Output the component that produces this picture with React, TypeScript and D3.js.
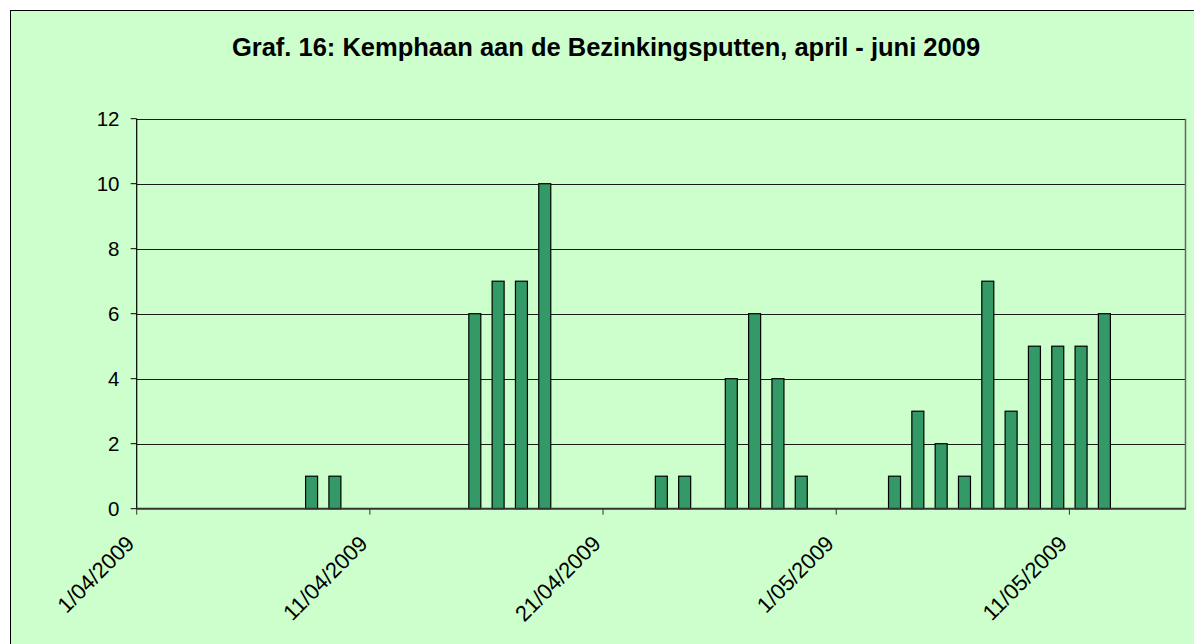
import React from "react";
import * as d3 from "d3";

const TITLE = "Graf. 16: Kemphaan aan de Bezinkingsputten, april - juni 2009";
const obsDates = [
  "2009-04-08", "2009-04-09", "2009-04-15", "2009-04-16", "2009-04-17", "2009-04-18",
  "2009-04-23", "2009-04-24", "2009-04-26", "2009-04-27", "2009-04-28", "2009-04-29",
  "2009-05-03", "2009-05-04", "2009-05-05", "2009-05-06", "2009-05-07", "2009-05-08",
  "2009-05-09", "2009-05-10", "2009-05-11", "2009-05-12",
];
const counts = [1, 1, 6, 7, 7, 10, 1, 1, 4, 6, 4, 1, 1, 3, 2, 1, 7, 3, 5, 5, 5, 6];
const yTicks = [0, 2, 4, 6, 8, 10, 12];
const xTickDates = ["2009-04-01", "2009-04-11", "2009-04-21", "2009-05-01", "2009-05-11"];
const domainStart = "2009-04-01";
const domainEnd = "2009-05-16";

const parse = (s: string) => {
  const [y, m, d] = s.split("-").map(Number);
  return new Date(y, m - 1, d);
};
const fmt = d3.timeFormat("%-d/%m/%Y");

export default function App() {
  const W = 1194, H = 644;
  const left = 136.7, right = 1186, top = 118.7, bottom = 508.7;
  const x = d3.scaleTime().domain([parse(domainStart), parse(domainEnd)]).range([left, right]);
  const y = d3.scaleLinear().domain([0, 12]).range([bottom, top]);
  const dayW = x(parse("2009-04-02")) - x(parse("2009-04-01"));
  const barW = 12;
  const font = "Arial, 'Liberation Sans', sans-serif";

  return (
    <svg width={W} height={H} style={{ position: "absolute", left: 0, top: 0 }} fontFamily={font}>
      <rect x={0} y={0} width={W} height={H} fill="#ffffff" />
      <rect x={10.5} y={10.5} width={W + 10} height={H + 10} fill="#CCFFCC" stroke="#000" strokeWidth={1} />
      <text x={606} y={56} textAnchor="middle" fontWeight="bold" fontSize={25.5} fill="#000">{TITLE}</text>
      {/* gridlines */}
      {yTicks.filter(t => t > 0).map(t => (
        <line key={t} x1={left} x2={right} y1={Math.round(y(t)) + 0.5} y2={Math.round(y(t)) + 0.5} stroke="#1a1a1a" strokeWidth={1} />
      ))}
      {/* right border */}
      <line x1={right - 0.5} x2={right - 0.5} y1={top} y2={bottom} stroke="#666" strokeWidth={1.5} />
      {/* bars */}
      {obsDates.map((d, i) => {
        const cx = x(parse(d)) + dayW / 2;
        return (
          <rect key={d} x={cx - barW / 2} y={y(counts[i])} width={barW} height={y(0) - y(counts[i])}
            fill="#339966" stroke="#000" strokeWidth={1.2} />
        );
      })}
      {/* y axis */}
      <line x1={left} x2={left} y1={top} y2={bottom} stroke="#000" strokeWidth={1.2} />
      {yTicks.map(t => (
        <g key={t}>
          <line x1={left - 6} x2={left} y1={y(t)} y2={y(t)} stroke="#000" strokeWidth={1} />
          <text x={119.5} y={y(t)} dy="0.36em" textAnchor="end" fontSize={20.5} fill="#000">{t}</text>
        </g>
      ))}
      {/* x axis */}
      <line x1={left} x2={right} y1={bottom} y2={bottom} stroke="#333" strokeWidth={2} />
      {xTickDates.map(d => {
        const tx = x(parse(d));
        return (
          <g key={d}>
            <line x1={tx} x2={tx} y1={bottom} y2={bottom + 6} stroke="#333" strokeWidth={1} />
            <text transform={`translate(${tx - 1},${545}) rotate(-45)`} textAnchor="end" fontSize={22} fill="#000">{fmt(parse(d))}</text>
          </g>
        );
      })}
    </svg>
  );
}
